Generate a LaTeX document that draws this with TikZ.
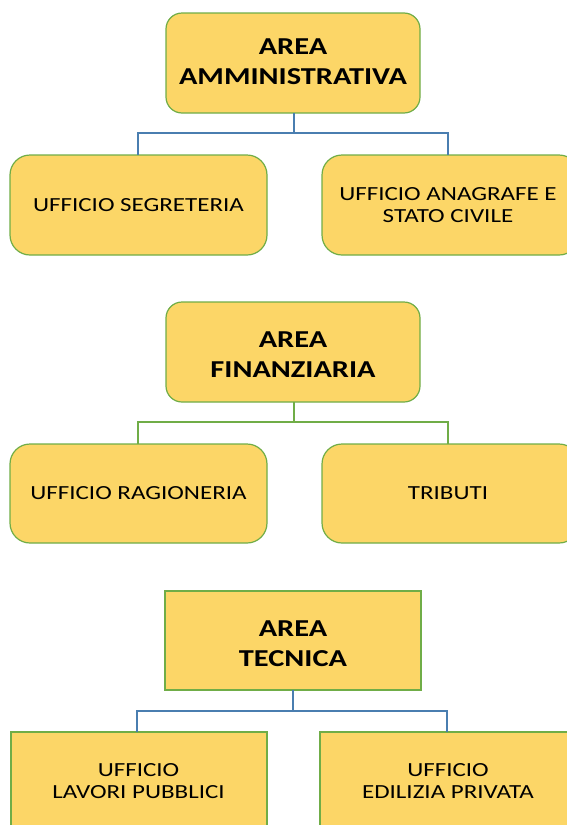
\documentclass[tikz,border=0pt]{standalone}
\usepackage{fontspec}
\setmainfont{Carlito}[FakeStretch=1.25]
\definecolor{boxfill}{HTML}{FCD667}
\definecolor{boxline}{HTML}{70AD47}
\definecolor{conblue}{HTML}{4A7EB0}
\definecolor{congreen}{HTML}{70AD47}
\begin{document}
\begin{tikzpicture}[x=1pt,y=-1pt,
  area/.style={draw=boxline,line width=1.2pt,fill=boxfill},
  titletext/.style={font=\fontsize{24.3}{30}\selectfont\bfseries,align=center,text=black},
  subtext/.style={font=\fontsize{20}{22}\selectfont,align=center,text=black},
  conn/.style={line width=2pt}]
\useasboundingbox (0,0) rectangle (567,825);
\clip (0,0) rectangle (567,825);
% --- Area amministrativa
\draw[area,rounded corners=16pt] (166,13) rectangle (420,113);
\node[titletext] (a1) at (293,62) {AREA\\AMMINISTRATIVA};
\draw[area,rounded corners=20pt] (10,155) rectangle (267,255);
\node[subtext] (a1l) at (138.5,205) {UFFICIO SEGRETERIA};
\draw[area,rounded corners=20pt] (322,155) rectangle (579,255);
\node[subtext] (a1r) at (448,205) {UFFICIO ANAGRAFE E\\STATO CIVILE};
\coordinate (a1b) at (294,113);
\coordinate (a1lt) at (138,155);
\coordinate (a1rt) at (448,155);
\draw[conn,draw=conblue] (a1b) -- (294,133) -| (a1lt);
\draw[conn,draw=conblue] (294,133) -| (a1rt);
% --- Area finanziaria
\draw[area,rounded corners=16pt] (166,302) rectangle (420,402);
\node[titletext] (a2) at (293,355) {AREA\\FINANZIARIA};
\draw[area,rounded corners=20pt] (10,444) rectangle (267,543);
\node[subtext] (a2l) at (138.5,493) {UFFICIO RAGIONERIA};
\draw[area,rounded corners=20pt] (322,444) rectangle (579,543);
\node[subtext] (a2r) at (448,493) {TRIBUTI};
\coordinate (a2b) at (294,402);
\coordinate (a2lt) at (138,444);
\coordinate (a2rt) at (448,444);
\draw[conn,draw=congreen] (a2b) -- (294,422) -| (a2lt);
\draw[conn,draw=congreen] (294,422) -| (a2rt);
% --- Area tecnica
\draw[area] (165,591) rectangle (421,690);
\node[titletext] (a3) at (293,644) {AREA\\TECNICA};
\draw[area] (11,732) rectangle (267,840);
\node[subtext] (a3l) at (138.5,781) {UFFICIO\\LAVORI PUBBLICI};
\draw[area] (320,732) rectangle (579,840);
\node[subtext] (a3r) at (448,781) {UFFICIO\\EDILIZIA PRIVATA};
\coordinate (a3b) at (293,690);
\coordinate (a3lt) at (137,732);
\coordinate (a3rt) at (447,732);
\draw[conn,draw=conblue] (a3b) -- (293,711) -| (a3lt);
\draw[conn,draw=conblue] (293,711) -| (a3rt);
\end{tikzpicture}
\end{document}
